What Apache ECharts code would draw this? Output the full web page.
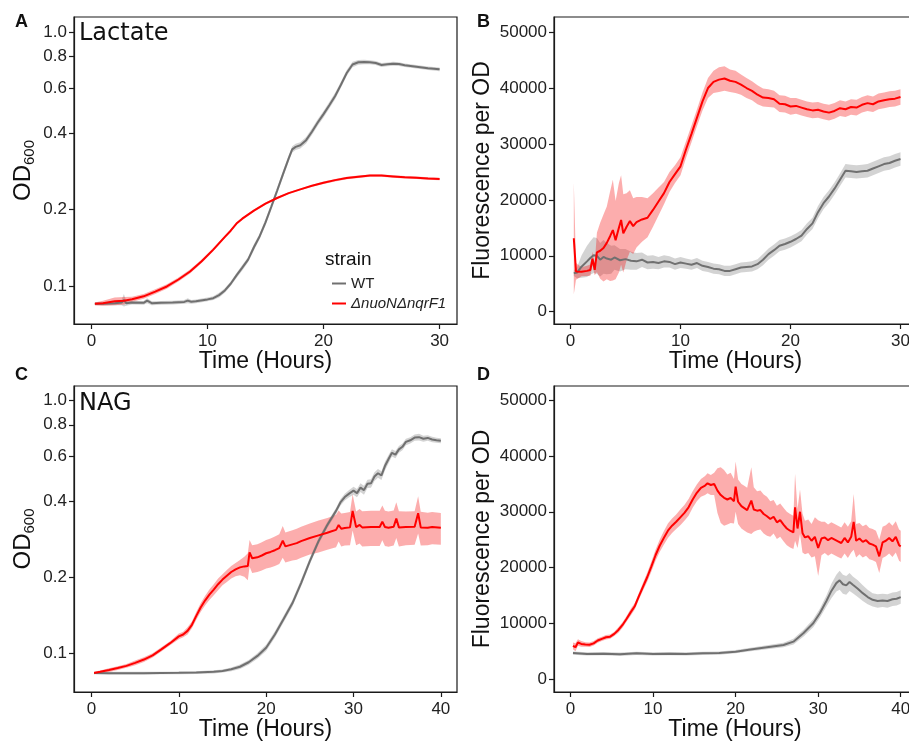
<!DOCTYPE html>
<html>
<head>
<meta charset="utf-8">
<script src="https://cdn.jsdelivr.net/npm/echarts@6/dist/echarts.min.js"></script>
<style>
  html, body { margin: 0; padding: 0; background: #fff; }
  #chart { width: 909px; height: 742px; }
</style>
</head>
<body>
<div id="chart"></div>
<script>
// ---- panel A: lactate, OD600 ----
const timeAWt = [0.3,1,2,2.6,2.8,3,3.5,4.5,4.8,5.2,6,7,8,8.3,8.6,9,10,10.5,11,11.5,12,12.5,13,13.5,14,14.5,15,15.5,16,16.5,17,17.3,17.6,18,18.5,19,19.5,20,20.5,21,21.5,22,22.5,23,23.5,24,24.5,25,25.5,26,26.5,27,28,29,30];
const odAWt = [0.085,0.085,0.0855,0.086,0.088,0.0855,0.086,0.0858,0.0875,0.0855,0.0858,0.086,0.0865,0.0875,0.0866,0.087,0.0885,0.0895,0.092,0.096,0.102,0.110,0.118,0.127,0.142,0.157,0.178,0.205,0.237,0.275,0.318,0.345,0.353,0.358,0.375,0.405,0.44,0.475,0.515,0.56,0.62,0.69,0.745,0.76,0.762,0.76,0.755,0.742,0.746,0.75,0.748,0.74,0.73,0.72,0.713];
const spreadAWt = [0.001,0.001,0.0015,0.002,0.005,0.002,0.0015,0.0015,0.002,0.0015,0.0015,0.0015,0.0015,0.002,0.0015,0.0015,0.0015,0.0015,0.002,0.002,0.002,0.0025,0.003,0.003,0.004,0.004,0.005,0.006,0.007,0.008,0.009,0.01,0.01,0.01,0.011,0.012,0.013,0.014,0.015,0.016,0.017,0.018,0.018,0.016,0.015,0.014,0.014,0.013,0.013,0.013,0.013,0.012,0.012,0.012,0.012];

const timeAMut = [0.3,1,2,2.8,3.5,4.5,5.5,6.5,7.5,8.5,9.5,10.5,11.5,12,12.5,13,14,15,16,17,18,19,20,21,22,23,24,25,26,27,28,29,30];
const odAMut = [0.085,0.0855,0.087,0.0875,0.0886,0.091,0.095,0.0995,0.106,0.114,0.125,0.139,0.156,0.165,0.176,0.184,0.198,0.211,0.222,0.232,0.240,0.248,0.255,0.261,0.266,0.269,0.272,0.272,0.270,0.268,0.267,0.265,0.264];
const spreadAMut = [0.001,0.002,0.003,0.003,0.002,0.002,0.002,0.002,0.002,0.002,0.002,0.002,0.002,0.002,0.002,0.002,0.002,0.002,0.002,0.002,0.002,0.002,0.003,0.003,0.003,0.003,0.003,0.003,0.003,0.003,0.003,0.003,0.003];

// ---- panel B: lactate, fluorescence per OD ----
const timeBWt = [0.3,0.6,1,1.5,1.8,2.1,2.4,2.7,3,3.3,3.7,4,4.5,5,5.5,6,6.5,7,7.5,8,8.5,9,9.5,10,10.5,11,11.5,12,12.5,13,13.5,14,14.5,15,15.5,16,16.5,17,17.5,18,18.5,19,19.5,20,20.5,21,21.5,22,22.5,23,23.5,24,24.5,25,25.5,26,26.5,27,27.5,28,28.5,29,29.5,30];
const fluBWt = [6870,7000,8050,9000,9600,10100,10000,9300,9800,9500,9300,9700,9200,9400,9100,9000,9300,8800,8900,8700,9000,8900,8500,8800,8600,8400,8700,8200,8000,7700,7600,7300,7300,7600,7900,8000,8100,8500,9300,10300,11000,11800,12100,12500,13000,13600,14800,15800,17800,19400,20600,22000,23600,25200,25100,25000,25100,25200,25600,26000,26400,26600,27000,27300];
const spreadBWt = [500,1000,2000,2800,3000,3200,3200,3000,3000,2800,2500,2200,2000,1800,1600,1500,1300,1200,1200,1100,1100,1000,1000,1000,900,900,900,900,900,900,900,900,900,900,900,900,900,900,1000,1000,1000,1000,1000,1000,1000,1000,1000,1000,1100,1100,1100,1100,1100,1200,1200,1200,1200,1200,1200,1200,1200,1200,1200,1200];

const timeBMut = [0.3,0.5,1,1.5,1.8,2,2.2,2.4,2.7,3,3.3,3.6,3.85,4.1,4.4,4.6,4.8,5.1,5.4,5.7,6,6.5,7,7.5,8,8.5,9,9.5,10,10.5,11,11.5,12,12.5,13,13.5,14,14.5,15,15.5,16,16.5,17,17.5,18,18.5,19,19.5,20,20.5,21,21.5,22,22.5,23,23.5,24,24.5,25,25.5,26,26.5,27,27.5,28,28.5,29,29.5,30];
const fluBMut = [13130,7200,7150,7300,7450,9500,7500,10600,10900,11400,12300,13500,14600,12800,15000,16400,14000,15200,16200,15300,16000,16500,16800,18200,19700,21200,23200,24600,26000,29000,31800,34700,37600,40000,41100,41500,41700,41300,41100,40600,40000,39500,38800,38300,38200,38000,37200,37100,36700,36800,36500,36200,36000,36100,35800,35600,35900,36400,36200,36600,36500,37000,37300,37100,37600,37800,38000,38100,38400];
const spreadBMut = [10000,1500,800,900,1000,1200,1000,3500,5000,6000,6500,8000,9000,7000,8000,8000,7000,6000,5500,5000,4500,4000,3500,3000,2500,2000,1800,1600,1600,1500,1500,1500,1600,1800,2000,2200,2200,2000,2000,1800,1800,1700,1700,1600,1600,1500,1500,1500,1500,1400,1400,1400,1400,1400,1400,1400,1400,1400,1400,1400,1400,1400,1400,1400,1400,1400,1400,1400,1400];

// ---- panel C: NAG, OD600 ----
const timeCWt = [0.3,2,4,6,8,10,12,14,15,16,17,18,19,20,21,22,23,24,25,26,27,28,28.5,29,29.5,30,30.4,30.8,31.2,31.6,32,32.4,32.8,33.2,33.6,34,34.4,34.8,35.2,35.6,36,36.5,37,37.5,38,38.5,39,39.5,40];
const odCWt = [0.0839,0.0838,0.0838,0.0838,0.0839,0.084,0.0842,0.0848,0.0855,0.0868,0.0888,0.0925,0.098,0.1055,0.119,0.137,0.158,0.19,0.232,0.278,0.322,0.366,0.395,0.415,0.428,0.44,0.43,0.452,0.442,0.468,0.47,0.50,0.515,0.505,0.55,0.585,0.62,0.61,0.64,0.655,0.685,0.695,0.712,0.715,0.705,0.71,0.70,0.695,0.692];
const spreadCWt = [0.001,0.001,0.001,0.001,0.001,0.001,0.001,0.0012,0.0012,0.0015,0.0018,0.002,0.0025,0.003,0.0035,0.004,0.005,0.006,0.007,0.008,0.009,0.01,0.012,0.013,0.014,0.016,0.016,0.018,0.018,0.018,0.018,0.02,0.02,0.02,0.022,0.022,0.02,0.02,0.02,0.02,0.02,0.02,0.02,0.022,0.02,0.018,0.018,0.016,0.016];

const timeCMut = [0.3,1,2,3,4,5,6,7,8,9,10,10.5,11,11.5,12,12.5,13,13.5,14,14.5,15,15.5,16,16.5,17,17.5,17.9,18.1,18.4,19,19.5,20,20.5,21,21.5,21.9,22.2,23,23.5,24,25,26,27,27.5,28,28.3,28.6,29,29.6,29.9,30.3,30.7,31,32,33,33.3,33.6,34,34.6,34.9,35.2,36,37,37.4,37.7,38.5,39,40];
const odCMut = [0.0839,0.0848,0.0862,0.0878,0.0895,0.092,0.0948,0.0985,0.104,0.110,0.117,0.119,0.123,0.130,0.141,0.152,0.162,0.171,0.179,0.188,0.196,0.203,0.210,0.215,0.219,0.221,0.222,0.251,0.238,0.240,0.244,0.249,0.252,0.256,0.261,0.279,0.265,0.270,0.273,0.278,0.286,0.293,0.300,0.304,0.308,0.322,0.311,0.313,0.315,0.366,0.316,0.322,0.315,0.316,0.316,0.332,0.316,0.314,0.317,0.341,0.315,0.316,0.317,0.358,0.315,0.314,0.316,0.314];
const spreadCMut = [0.001,0.001,0.0015,0.0015,0.0015,0.002,0.002,0.002,0.002,0.002,0.003,0.003,0.004,0.004,0.005,0.006,0.007,0.008,0.009,0.01,0.01,0.011,0.012,0.013,0.015,0.02,0.027,0.03,0.03,0.03,0.031,0.032,0.033,0.034,0.035,0.04,0.036,0.037,0.038,0.039,0.04,0.042,0.043,0.044,0.045,0.045,0.046,0.046,0.047,0.06,0.048,0.05,0.05,0.05,0.05,0.052,0.05,0.05,0.05,0.055,0.05,0.048,0.048,0.06,0.048,0.046,0.046,0.045];

// ---- panel D: NAG, fluorescence per OD ----
const timeDWt = [0.3,2,4,6,8,10,12,14,16,18,20,21.8,23.8,25.8,27,28.2,29.4,30.2,31,31.6,32.2,32.6,33,33.4,33.8,34.2,34.8,35.4,36,36.6,37.2,37.8,38.4,39,39.5,40];
const fluDWt = [4650,4500,4550,4450,4600,4500,4550,4500,4600,4650,4900,5300,5700,6100,6700,8200,10000,11800,14000,15800,17200,17700,17000,16800,17400,16900,16200,15400,14700,14200,14000,14100,14000,14300,14400,14700];
const spreadDWt = [300,300,300,300,300,300,300,300,300,300,300,300,350,400,500,600,700,800,1000,1300,1500,1700,1700,1700,1600,1500,1500,1400,1300,1200,1200,1200,1200,1200,1200,1200];

const timeDMut = [0.3,0.6,0.9,1.3,1.8,2.3,2.8,3.3,3.8,4.3,4.8,5.3,5.8,6.3,6.8,7.3,7.8,8.3,8.8,9.3,9.8,10.3,10.8,11.3,11.8,12.3,12.8,13.3,13.8,14.3,14.8,15.3,15.8,16.3,16.6,17,17.4,17.8,18.2,18.6,19,19.4,19.8,20,20.3,20.7,21,21.4,21.9,22.2,22.6,23,23.4,23.8,24.2,24.6,25,25.4,25.8,26.2,26.6,27,27.2,27.5,27.8,28.1,28.4,28.8,29.2,29.6,30,30.4,30.8,31.2,31.6,32,32.4,32.8,33.2,33.6,34,34.3,34.6,35,35.4,35.8,36.2,36.6,37,37.4,37.8,38.2,38.6,39,39.4,39.8,40];
const fluDMut = [5960,5700,6550,6300,6200,6150,6400,6900,7200,7500,7600,8100,8800,9700,10800,12000,13100,14900,16600,18300,20200,22200,23900,25300,26600,27500,28200,29000,29800,30800,32200,33400,34300,34700,35100,34800,35000,33800,33000,32500,32200,32500,31900,34500,31800,31000,30700,30300,32000,30400,30200,30300,29600,29200,28700,29100,28100,28500,27700,27000,26600,26300,30800,27000,30000,26200,25400,25600,24800,25500,23500,25200,25400,24900,25300,25000,24700,24400,25300,24500,25500,28200,24800,25200,24600,24900,24300,24100,23800,22000,24500,24800,25300,24700,25500,24000,23800];
const spreadDMut = [600,700,600,500,400,400,400,400,400,400,400,400,500,500,500,600,600,600,700,800,900,1000,1100,1200,1300,1300,1300,1400,1400,1500,1500,1500,1600,1700,1800,1800,2000,4000,5000,5000,4500,4500,4000,4500,4000,4000,4000,4000,6000,4000,3500,3500,3500,3500,3200,3000,3000,3000,3000,3000,3000,3000,6000,3500,4000,3500,3000,3000,3000,3500,5000,3000,2800,2800,2800,2800,2800,2800,2800,2800,2800,5000,3000,2800,2800,2800,2800,2800,2800,3000,2800,2800,2800,2800,2800,2800,2800];

// ---- axis ticks ----
const timeTicks30 = [0, 10, 20, 30];
const timeTicks40 = [0, 10, 20, 30, 40];
const odTicks = [0.1, 0.2, 0.4, 0.6, 0.8, 1.0];
const fluTicks = [0, 10000, 20000, 30000, 40000, 50000];

const WT_NAME = 'WT';
const MUT_NAME = 'ΔnuoNΔnqrF1';
const GRAY = '#707070';
const GRAY_BAND = 'rgba(150,150,150,0.42)';
const RED = '#ff0000';
const RED_BAND = 'rgba(245,20,20,0.35)';
const INK = '#1a1a1a';
const KEY_ICON = 'path://M0 0H14V2H0Z';

const chart = echarts.init(document.getElementById('chart'), null, { renderer: 'canvas' });

function pairs(time, vals) {
  return time.map((t, i) => [t, vals[i]]);
}

// ribbon drawn as one polygon, every vertex placed through the axis scales
function ribbon(idx, time, mean, spread, color) {
  const n = time.length;
  return {
    type: 'custom', xAxisIndex: idx, yAxisIndex: idx, silent: true, clip: true,
    encode: { x: 0, y: [1, 2] },
    data: time.map((t, i) => [t, mean[i] - spread[i], mean[i] + spread[i]]),
    renderItem: function (params, api) {
      if (params.dataIndexInside !== 0) return null;
      const lower = [], upper = [];
      for (let i = 0; i < n; i++) {
        const t = api.value(0, i);
        lower.push(api.coord([t, api.value(1, i)]));
        upper.push(api.coord([t, api.value(2, i)]));
      }
      return {
        type: 'polygon',
        shape: { points: lower.concat(upper.reverse()) },
        style: { fill: color }
      };
    }
  };
}

function meanLine(idx, name, time, mean, color) {
  return {
    type: 'line', name: name, xAxisIndex: idx, yAxisIndex: idx,
    symbol: 'none', itemStyle: { color: color }, lineStyle: { color: color, width: 2 },
    data: pairs(time, mean)
  };
}

function panelSeries(idx, tw, mw, sw, tm, mm, sm) {
  return [
    ribbon(idx, tw, mw, sw, GRAY_BAND),
    meanLine(idx, WT_NAME, tw, mw, GRAY),
    ribbon(idx, tm, mm, sm, RED_BAND),
    meanLine(idx, MUT_NAME, tm, mm, RED)
  ];
}

function timeAxis(idx, min, max, ticks) {
  return {
    gridIndex: idx, type: 'value', min: min, max: max,
    axisLine: { show: true, onZero: false, lineStyle: { color: INK, width: 1.2 } },
    axisTick: { show: true, customValues: ticks, length: 5, lineStyle: { color: INK, width: 1.2 } },
    axisLabel: { customValues: ticks, fontSize: 17, color: '#222', margin: 9 },
    splitLine: { show: false },
    name: 'Time (Hours)', nameLocation: 'middle', nameGap: 26, nameMoveOverlap: false,
    nameTextStyle: { fontSize: 23, color: '#111' }
  };
}

function odAxis(idx, min, max) {
  return {
    gridIndex: idx, type: 'log', logBase: 10, min: min, max: max,
    axisLine: { show: true, onZero: false, lineStyle: { color: INK, width: 1.2 } },
    axisTick: { show: true, customValues: odTicks, length: 5, lineStyle: { color: INK, width: 1.2 } },
    axisLabel: { customValues: odTicks, fontSize: 17, color: '#222', margin: 7, formatter: v => Number(v).toFixed(1) },
    splitLine: { show: false }, minorTick: { show: false },
    name: '{m|OD}{s|600}', nameLocation: 'middle', nameGap: 37, nameMoveOverlap: false,
    nameTextStyle: {
      color: '#111',
      rich: {
        m: { fontSize: 24, lineHeight: 28, color: '#111' },
        s: { fontSize: 15, lineHeight: 15, verticalAlign: 'bottom', color: '#111' }
      }
    }
  };
}

function fluAxis(idx, min, max) {
  return {
    gridIndex: idx, type: 'value', min: min, max: max,
    axisLine: { show: true, onZero: false, lineStyle: { color: INK, width: 1.2 } },
    axisTick: { show: true, customValues: fluTicks, length: 5, lineStyle: { color: INK, width: 1.2 } },
    axisLabel: { customValues: fluTicks, fontSize: 17, color: '#222', margin: 7, formatter: v => String(v) },
    splitLine: { show: false },
    name: 'Fluorescence per OD', nameLocation: 'middle', nameGap: 60, nameMoveOverlap: false,
    nameTextStyle: { fontSize: 23, color: '#111' }
  };
}

const gridBase = { show: true, borderColor: INK, borderWidth: 1.2, backgroundColor: 'transparent', containLabel: false, outerBoundsMode: 'none' };

function label(text, left, top, size, extra) {
  return {
    type: 'text', left: left, top: top, z: 100,
    style: Object.assign({ text: text, fontSize: size, fontFamily: 'Liberation Sans', fill: '#111' }, extra || {})
  };
}

const option = {
  animation: false,
  backgroundColor: '#ffffff',
  textStyle: { fontFamily: 'Liberation Sans' },
  grid: [
    Object.assign({ left: 74, top: 17, width: 383, height: 307 }, gridBase),
    Object.assign({ left: 554, top: 17, width: 363, height: 307 }, gridBase),
    Object.assign({ left: 74, top: 386, width: 383, height: 306 }, gridBase),
    Object.assign({ left: 554, top: 386, width: 362, height: 306 }, gridBase)
  ],
  xAxis: [
    timeAxis(0, -1.5, 31.5, timeTicks30),
    timeAxis(1, -1.5, 31.5, timeTicks30),
    timeAxis(2, -2, 41.85, timeTicks40),
    timeAxis(3, -2, 41.85, timeTicks40)
  ],
  yAxis: [
    odAxis(0, 0.0708, 1.146),
    fluAxis(1, -2200, 52700),
    odAxis(2, 0.0706, 1.138),
    fluAxis(3, -2330, 52560)
  ],
  legend: {
    left: 327, top: 271, orient: 'vertical', icon: KEY_ICON,
    itemWidth: 14, itemHeight: 2, itemGap: 5, selectedMode: false,
    textStyle: { fontSize: 15, color: '#222' },
    data: [
      { name: WT_NAME, icon: KEY_ICON, itemStyle: { color: GRAY } },
      { name: MUT_NAME, icon: KEY_ICON, itemStyle: { color: RED }, textStyle: { fontStyle: 'italic' } }
    ]
  },
  graphic: [
    label('A', 15, 13, 18, { fontWeight: 'bold' }),
    label('B', 477, 13, 18, { fontWeight: 'bold' }),
    label('C', 15, 366, 18, { fontWeight: 'bold' }),
    label('D', 477, 366, 18, { fontWeight: 'bold' }),
    label('Lactate', 79, 22, 24, { fontFamily: 'DejaVu Sans' }),
    label('NAG', 79, 392, 24, { fontFamily: 'DejaVu Sans' }),
    label('strain', 325, 250, 19)
  ],
  series: [].concat(
    panelSeries(0, timeAWt, odAWt, spreadAWt, timeAMut, odAMut, spreadAMut),
    panelSeries(1, timeBWt, fluBWt, spreadBWt, timeBMut, fluBMut, spreadBMut),
    panelSeries(2, timeCWt, odCWt, spreadCWt, timeCMut, odCMut, spreadCMut),
    panelSeries(3, timeDWt, fluDWt, spreadDWt, timeDMut, fluDMut, spreadDMut)
  )
};

chart.setOption(option);
</script>
</body>
</html>
